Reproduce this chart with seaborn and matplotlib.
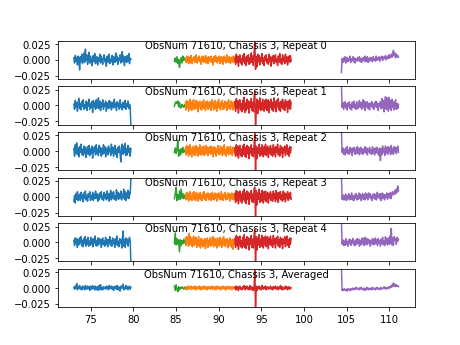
import numpy as np
import pandas as pd
import matplotlib
matplotlib.use("Agg")
import matplotlib.pyplot as plt
import seaborn as sns

titles = ["ObsNum 71610, Chassis 3, Repeat 0",
          "ObsNum 71610, Chassis 3, Repeat 1",
          "ObsNum 71610, Chassis 3, Repeat 2",
          "ObsNum 71610, Chassis 3, Repeat 3",
          "ObsNum 71610, Chassis 3, Repeat 4",
          "ObsNum 71610, Chassis 3, Averaged"]

# frequency range (GHz) of each spectral band segment
seg_start = [73.0, 84.8, 86.1, 91.9, 104.4]
seg_end = [79.7, 86.1, 91.9, 98.5, 111.1]
seg_colors = ["tab:blue", "tab:green", "tab:orange", "tab:red", "tab:purple"]

# values in units of 1e-3, one list per panel
blue_vals = [
    [3,-5,7,-2,4,-8,6,1,-16,5,-3,9,-6,2,11,-4,17,-1,8,-7,3,12,-5,6,-2,-9,4,7,-3,10,-6,1,5,-8,3,-2,9,-5,6,-1,-7,4,8,-3,2,-10,6,-4,3,9,-6,1,-3,7,-8,5,2,-4,11,-2,6,-7,3,-1,8,-5,4,13,-3,6,-9,2,5,-4,7,-2,10,-6,3,1],
    [2,-6,8,-3,5,-9,4,11,-5,3,-7,6,-2,9,-6,1,-4,7,-8,5,-1,10,-6,3,-3,6,-11,8,-2,5,-6,9,-4,2,12,-5,7,-8,4,-2,9,-6,3,-1,7,-9,4,2,-5,8,-3,6,-7,1,5,-4,10,-2,3,-8,6,-1,4,-6,9,-3,2,-7,5,1,-4,8,-6,3,-2,7,-5,2,-1,-35],
    [4,-8,10,-3,13,-6,5,-9,7,-2,11,-5,3,-7,8,-4,6,-10,2,7,-5,9,-7,4,-3,8,-11,5,-1,7,-6,10,-4,3,-7,9,-2,6,-8,4,-5,10,-3,7,-9,2,5,-6,8,-1,4,-7,11,-3,6,-8,2,9,-5,3,-10,6,-2,8,-4,-17,5,11,-5,8,-3,12,-7,4,-6,9,-2,5,-8,4],
    [-7,2,-10,5,-4,8,-6,1,4,-6,7,-3,3,-8,6,-2,9,-5,2,-7,5,-1,8,-6,2,-4,7,-6,4,-3,9,-2,5,-7,3,-5,6,-1,8,-4,2,-6,7,-2,4,-5,9,-3,5,-7,3,10,-5,6,-2,8,-4,2,-6,11,-3,7,-4,5,-2,9,-5,4,-1,12,-4,8,-6,6,-2,10,-3,7,4,28],
    [3,-5,7,-2,6,-8,4,-4,7,-1,9,-5,3,-7,6,-2,9,-6,4,-3,8,-6,2,-5,8,-3,5,-7,6,-1,10,-5,3,-6,7,-4,6,-2,5,-8,3,7,-4,2,-6,8,-3,5,-7,4,-1,9,-5,3,-6,7,-2,4,-8,6,-3,10,-5,2,-7,6,-1,4,-9,7,18,-6,4,-8,7,-2,5,-6,3,8,2,-35],
    [1,-2,3,-1,7,-3,2,0,4,-2,1,-3,3,-1,2,-3,4,0,-2,3,-1,2,-4,3,0,-2,4,-1,2,-3,3,-3,1,2,-4,4,-2,5,-3,1,-3,2,0,1,-2,3,-1,2,-3,4,-1,0,3,-2,2,-4,1,3,-1,-2,4,-3,2,0,-5,3,-1,2,6,-3,1,-2,4,-1,2,-3,1,3,-2,1],
]
green_vals = [
    [-2,3,-4,5,-6,1,-12,-3,4,-5,6,-1,3,2],
    [-1,4,6,3,7,-2,5,-4,-3,2,-1,-3,1,2],
    [-2,5,-4,3,17,-8,2,-6,4,-3,6,-2,1,3],
    [-3,4,15,-6,3,-4,9,-4,12,-2,5,-3,2,3],
    [-2,15,-4,6,-3,4,-15,4,-5,3,-2,5,-1,3],
    [3,-4,5,-2,-6,2,-3,1,-1,2,0,-2,1,0],
]
orange_vals = [
    [2,-4,6,-3,5,-6,1,4,-5,7,-2,-6,3,0,5,-4,2,8,-3,-5,4,-1,6,-3,2,-7,5,-2,6,-4,3,-2,7,-5,1,4,-6,5,-1,3,-3,6,-4,2,-8,5,0,-3,7,-2,4,-5,3,-1,6,-6,2,5,-3,4,-7,1,6,-2,3,-5,8,-3,2,-4,5,-1,-6,4,2,-3,6,-4,1,3],
    [5,-7,8,-3,6,-9,2,10,-5,4,-8,7,-2,9,-6,3,-5,8,-4,6,-10,5,-1,7,-6,3,-7,6,-3,9,-5,2,-8,6,-2,7,-6,4,-4,6,3,-8,9,-2,5,-7,4,8,-5,1,-9,6,-3,10,-4,2,-7,5,-1,8,-6,3,-5,7,-2,4,-8,6,-3,9,-5,1,-6,7,-2,4,-7,5,-3,6],
    [6,-6,9,-4,7,-8,3,10,-5,2,-9,6,-3,8,-6,4,-7,9,-2,6,-8,5,-4,10,-6,3,-6,7,-1,8,-7,4,-5,9,-3,6,-7,5,-2,7,-5,8,-3,6,-9,2,7,-4,5,-8,3,-2,9,-6,4,-5,8,-1,6,-7,3,-4,10,-5,2,-8,6,-3,7,-6,4,-2,8,-5,3,-7,6,-1,5,-4],
    [4,-5,7,-3,5,-7,2,8,-4,1,-6,6,-2,8,-5,3,-6,7,-1,5,-7,4,-3,7,-5,2,-6,6,-2,8,-4,3,-6,5,-1,6,-5,4,-3,5,-6,2,7,-4,3,-5,6,-2,4,-7,5,-1,6,-4,2,-5,8,-3,4,-6,3,-1,7,-5,2,-4,6,-2,5,-7,3,-3,6,-4,1,5,-5,3],
    [7,-5,9,-2,8,-6,14,-3,9,-4,6,-7,3,10,-5,7,-2,8,-8,4,-3,9,-6,2,-9,6,-4,5,-7,3,-6,6,-10,4,-2,7,-8,3,-5,4,8,-6,5,-3,9,-7,2,6,-5,3,-9,7,-2,5,-6,8,-4,2,-8,6,-3,9,-5,4,-7,5,-1,6,-9,3,-4,7,-6,2,-8,5,-11,4,-3,6],
    [2,-3,1,-2,3,0,-2,2,-1,3,-2,1,0,2,-2,3,-1,-3,2,0,1,-2,3,-1,2,-3,0,2,-2,1,3,-1,-2,2,0,-3,2,1,-1,2,-2,1,3,-2,0,2,-1,-3,2,1,-2,3,0,-1,2,-2,1,-3,2,0,3,-1,-2,2,1,-3,2,-1,0,3,-2,1,-1,2,-3,1,2,-1,0,2],
]
red_vals = [
    [4,-7,9,-4,6,-10,3,8,-5,2,-8,7,-3,10,-6,4,-9,6,-2,8,-7,3,-5,11,-4,6,-9,12,28,-15,5,-11,9,-3,7,-8,4,-2,10,-6,3,-9,6,-1,8,-5,2,-7,9,-3,5,-10,4,-2,7,-6,3,8,-4,1,-9,6,-3,10,-5,2,-7,8,-2,4,-6,9,-3,5,-8,2,6,-4,7,-2],
    [6,-9,11,-4,8,-12,5,9,-7,3,-10,8,-6,13,-11,4,-8,10,-5,7,-12,6,-3,11,-8,5,-10,14,22,-35,-6,10,-13,7,-5,12,-8,4,-7,10,-3,-9,8,-5,10,-8,4,9,-11,6,-3,10,-7,5,-9,12,-4,6,-10,8,-2,11,-7,4,-9,7,-3,10,-6,5,-8,9,-2,6,-11,7,-4,9,-6,5],
    [5,-8,10,-6,8,-11,4,9,-7,3,-9,8,-5,11,-8,6,-10,9,-4,7,-12,5,-3,10,-7,4,-9,11,28,-35,8,-12,6,-4,11,-8,5,-6,10,-3,-9,7,-5,11,-7,3,8,-10,5,-3,9,-6,4,-8,10,-4,6,-9,7,-2,11,-6,4,-8,9,-3,6,-10,5,-2,8,-7,3,10,-5,4,-8,7,-3,6],
    [5,-9,10,-6,8,-11,3,9,-7,4,-10,8,-5,12,-8,6,-11,9,-4,7,-12,5,-3,10,-8,4,-9,13,15,-35,10,-13,6,-4,12,-9,5,-7,10,-3,-10,8,-5,9,-8,3,7,-10,5,-2,8,-6,4,-7,9,-3,5,-8,10,-4,6,-9,7,-2,8,-5,3,-7,9,-4,6,-8,4,-2,8,-6,5,-3,7,-4],
    [6,-8,11,-5,9,-11,4,10,-7,3,-9,8,-6,12,-8,5,-10,9,-4,7,-12,6,-3,11,-8,5,-9,13,20,-35,9,-12,7,-4,12,-8,5,-6,11,-3,-9,8,-4,10,-7,4,9,-10,6,-3,10,-5,4,-8,11,-3,6,-9,7,-2,10,-6,4,-8,8,-3,6,-10,5,-2,9,-7,3,10,-5,4,-8,7,-3,6],
    [1,-3,3,-2,2,-4,1,3,-2,0,-3,2,-1,4,-3,2,-1,3,-2,1,-3,4,-2,2,-3,1,-4,3,28,-35,3,-4,2,-1,3,-2,1,-3,4,0,-2,2,-1,3,-3,1,2,-2,0,-1,3,-2,1,-3,2,-1,1,3,-2,0,2,-3,1,-1,4,-2,2,-3,1,0,-2,3,-1,2,-3,1,2,-2,1,0],
]
purple_vals = [
    [-20,2,-4,3,-2,5,-5,1,4,-3,2,-1,6,-4,2,-1,5,-3,3,-5,2,1,-2,4,-1,5,-3,2,-4,3,-1,4,-2,6,-3,1,5,-4,2,-2,4,-1,3,-3,5,0,2,-2,6,-1,3,1,5,-2,4,2,6,-1,3,5,2,7,0,4,6,2,8,3,5,9,4,10,15,6,11,3,9,5,7,4],
    [35,-3,5,-6,2,6,-4,3,-7,4,-2,6,-5,1,-7,5,-3,7,-4,2,-6,6,-1,-5,4,8,-3,5,-6,3,9,-4,7,-8,5,-2,6,-5,3,-7,4,-1,6,-4,2,-6,5,-2,7,-3,4,-8,3,-1,6,-5,11,-4,8,-10,5,14,-6,12,-2,-9,13,-5,8,-8,10,-3,6,-7,4,9,-6,3,-5,2],
    [35,-2,5,-5,3,-6,5,-3,7,-4,2,-5,6,-2,4,-7,5,-1,6,-5,3,-4,7,-3,5,-6,2,6,-4,3,-5,4,-2,7,-3,5,-6,3,-1,6,-4,2,-5,7,-3,4,-6,5,-2,6,-4,3,-7,5,-15,4,-6,8,-2,4,-7,8,-3,6,-5,7,-2,5,-6,9,-3,4,-5,7,-1,6,-4,3,8,-2],
    [35,-4,3,-5,2,-5,4,-6,1,-3,5,-5,2,-4,6,-5,1,-6,3,-2,5,-5,2,-4,6,-3,4,-6,1,5,-4,3,-5,6,-2,4,-5,6,-1,5,-3,2,-6,4,-2,5,-4,3,-5,7,-1,4,-3,5,-6,2,6,-3,4,-5,3,-1,6,-4,2,5,-2,7,-3,4,8,3,6,10,4,12,7,17,9],
    [35,-3,4,-5,2,-5,6,-3,1,-6,4,-2,5,-5,3,-1,6,-4,2,-5,4,-3,6,-2,5,-6,3,-4,6,-2,7,-5,3,8,-4,6,-3,5,-1,4,-6,3,-2,6,-4,5,-3,7,-2,4,-5,6,-1,3,-6,5,-2,8,-4,3,-5,9,-2,6,-4,7,-3,10,-2,22,-4,7,-5,9,4,6,-3,8,2,5],
    [35,-4,-2,-4,-1,-3,-4,-2,-5,-1,-3,-2,-4,-1,-3,-2,0,-3,-1,-2,1,-2,0,-1,-3,0,-2,1,-1,-3,-2,0,-4,-1,-3,1,-2,0,-3,-1,-2,0,-3,1,-2,-1,0,-3,-1,1,-2,0,-1,-3,0,1,-2,-1,0,2,-1,1,-2,0,1,-1,2,0,3,1,5,2,8,3,6,2,5,3,4,2],
]
segments = [blue_vals, green_vals, orange_vals, red_vals, purple_vals]

fig, axes = plt.subplots(6, 1, sharex=True, figsize=(6.4, 4.8), dpi=72)
for i, ax in enumerate(axes):
    for s, seg in enumerate(segments):
        vals = np.asarray(seg[i], dtype=float) * 1e-3
        freq = np.linspace(seg_start[s], seg_end[s], len(vals))
        df = pd.DataFrame({"freq": freq, "val": vals})
        sns.lineplot(data=df, x="freq", y="val", ax=ax, color=seg_colors[s],
                     estimator=None, sort=False, linewidth=1.5)
    ax.set_ylim(-0.03, 0.03)
    ax.set_yticks([-0.025, 0.0, 0.025])
    ax.set_xlabel("")
    ax.set_ylabel("")
    ax.set_title(titles[i], fontsize=10, y=1.0, pad=-8)

axes[-1].set_xticks([75, 80, 85, 90, 95, 100, 105, 110])
fig.savefig("out.png", dpi=72)
